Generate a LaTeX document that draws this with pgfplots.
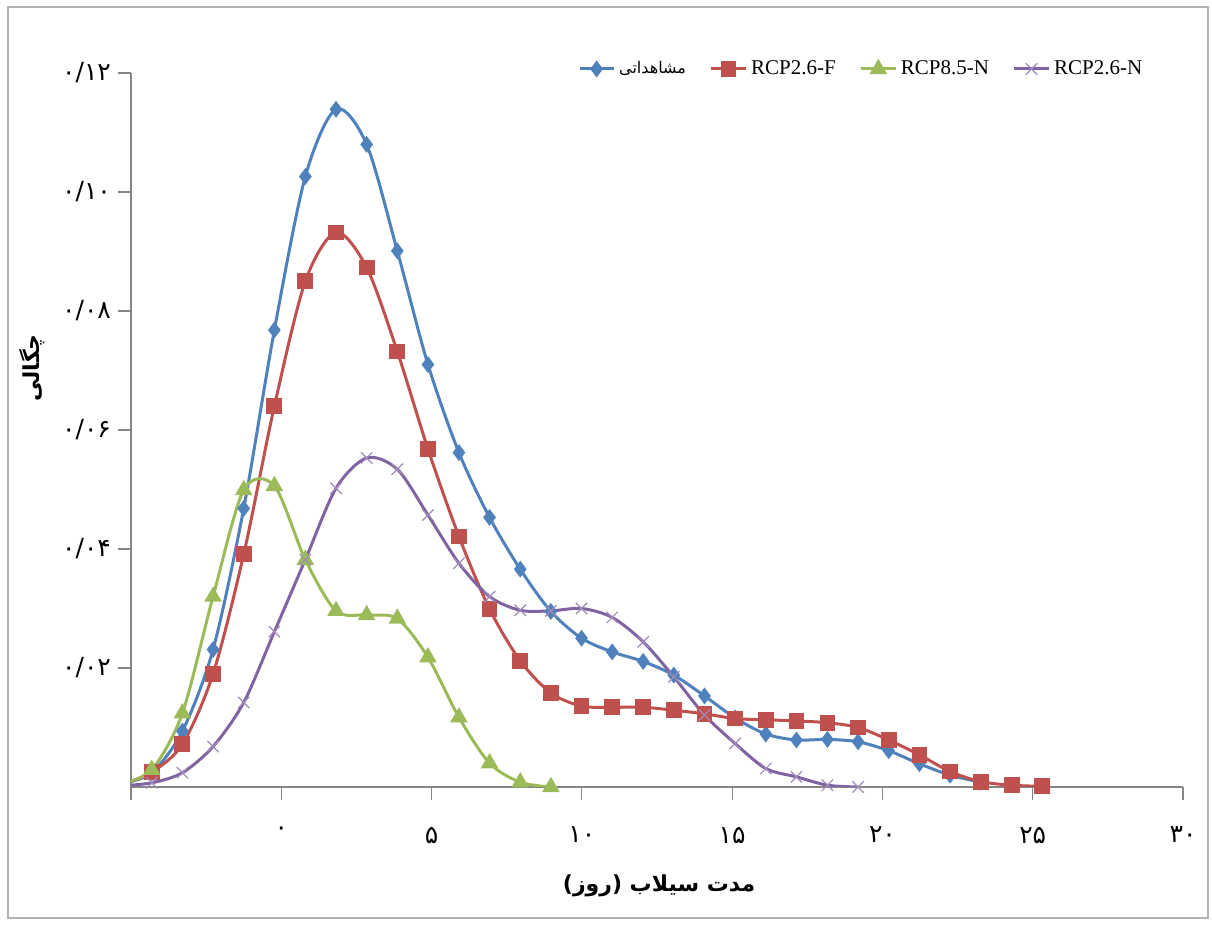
\documentclass[border=0pt]{standalone}
\usepackage{fontspec}
\usepackage{pgfplots}
\pgfplotsset{compat=1.18}
\setmainfont{Liberation Serif}
\newfontfamily\fa[Script=Arabic]{DejaVu Sans}
\TeXXeTstate=1
\definecolor{cblue}{HTML}{4F81BD}
\definecolor{cred}{HTML}{C0504D}
\definecolor{cgreen}{HTML}{9BBB59}
\definecolor{cpurple}{HTML}{8064A2}
\definecolor{axisgray}{HTML}{868686}

\pgfplotstableread{
x y
-5.33 0.0005
-4.31 0.0024
-3.29 0.0094
-2.27 0.0231
-1.25 0.0468
-0.23 0.0768
0.80 0.1026
1.82 0.1139
2.84 0.1080
3.86 0.0901
4.88 0.0710
5.91 0.0562
6.93 0.0453
7.95 0.0366
8.97 0.0295
9.99 0.0250
11.01 0.0227
12.04 0.0211
13.06 0.0188
14.08 0.0153
15.10 0.0116
16.12 0.0089
17.14 0.0079
18.17 0.0080
19.19 0.0076
20.21 0.0061
21.23 0.0039
22.25 0.0020
23.27 0.0008
}\obs

\pgfplotstableread{
x y
-5.33 0.0004
-4.31 0.0025
-3.29 0.0072
-2.27 0.0190
-1.25 0.0391
-0.23 0.0640
0.80 0.0850
1.82 0.0932
2.84 0.0873
3.86 0.0732
4.88 0.0568
5.91 0.0421
6.93 0.0299
7.95 0.0212
8.97 0.0158
9.99 0.0136
11.01 0.0134
12.04 0.0134
13.06 0.0129
14.08 0.0123
15.10 0.0115
16.12 0.0113
17.14 0.0111
18.17 0.0108
19.19 0.0100
20.21 0.0079
21.23 0.0054
22.25 0.0026
23.27 0.0009
24.30 0.0003
25.32 0.0001
}\rcpf

\pgfplotstableread{
x y
-5.33 0.0005
-4.31 0.0029
-3.29 0.0124
-2.27 0.0320
-1.25 0.0499
-0.23 0.0506
0.80 0.0382
1.82 0.0296
2.84 0.0289
3.86 0.0283
4.88 0.0218
5.91 0.0117
6.93 0.0040
7.95 0.0008
8.97 0.0000
}\rcpen

\pgfplotstableread{
x y
-5.33 0.0002
-4.31 0.0007
-3.29 0.0024
-2.27 0.0068
-1.25 0.0142
-0.23 0.0261
0.80 0.0382
1.82 0.0502
2.84 0.0553
3.86 0.0534
4.88 0.0457
5.91 0.0376
6.93 0.0320
7.95 0.0297
8.97 0.0296
9.99 0.0300
11.01 0.0285
12.04 0.0244
13.06 0.0185
14.08 0.0121
15.10 0.0073
16.12 0.0031
17.14 0.0017
18.17 0.0003
19.19 0.0000
}\rcpn

\begin{document}
\begin{tikzpicture}
\useasboundingbox (0,0) rectangle (606pt,462.5pt);
\draw[gray!60, line width=0.6pt] (4pt,3.5pt) rectangle (604pt,459pt);
\begin{axis}[
  at={(65.5pt,69pt)}, anchor=south west,
  scale only axis, width=526pt, height=357pt,
  xmin=-5, xmax=30, ymin=0, ymax=0.12,
  axis x line=bottom, axis y line=left,
  axis line style={-, draw=axisgray, line width=0.6pt},
  tick align=outside, major tick length=6.5pt,
  tick style={axisgray, line width=0.6pt},
  minor tick num=0,
  xtick={-5,0,5,10,15,20,25,30},
  xticklabels={,۰,۵,۱۰,۱۵,۲۰,۲۵,۳۰},
  ytick={0.02,0.04,0.06,0.08,0.10,0.12},
  yticklabels={۰/۰۲,۰/۰۴,۰/۰۶,۰/۰۸,۰/۱۰,۰/۱۲},
  ticklabel style={font=\fa\fontsize{12.5}{14}\selectfont, black},
  xticklabel style={yshift=-10pt},
  xlabel={\fa\bfseries\beginR مدت سیلاب (روز)\endR},
  ylabel={\fa\bfseries\beginR چگالی\endR},
  label style={font=\fontsize{11}{13}\selectfont},
  xlabel style={at={(axis description cs:0.502,-0.138)}, anchor=center},
  ylabel style={at={(axis description cs:-0.094,0.587)}, anchor=center},
  legend columns=4,
  legend cell align=left,
  legend style={at={(axis description cs:0.695,1.0056)}, anchor=center,
    draw=none, fill=none, font=\fontsize{10.5}{12}\selectfont,
    /tikz/every even column/.append style={column sep=10pt}},
  every axis plot/.append style={smooth, tension=0.5, line width=1.5pt},
]
\addplot[cblue, mark=diamond*, mark size=3pt, mark options={solid}] table {\obs};
\addlegendentry{\fa\fontsize{8}{10}\selectfont\beginR مشاهداتی\endR}
\addplot[cred, mark=square*, mark size=3.2pt] table {\rcpf};
\addlegendentry{RCP2.6-F}
\addplot[cgreen, mark=triangle*, mark size=3.6pt] table {\rcpen};
\addlegendentry{RCP8.5-N}
\addplot[cpurple, mark=x, mark size=4pt, mark options={line width=0.6pt, draw=cpurple!75}] table {\rcpn};
\addlegendentry{RCP2.6-N}
\end{axis}
\end{tikzpicture}
\end{document}
